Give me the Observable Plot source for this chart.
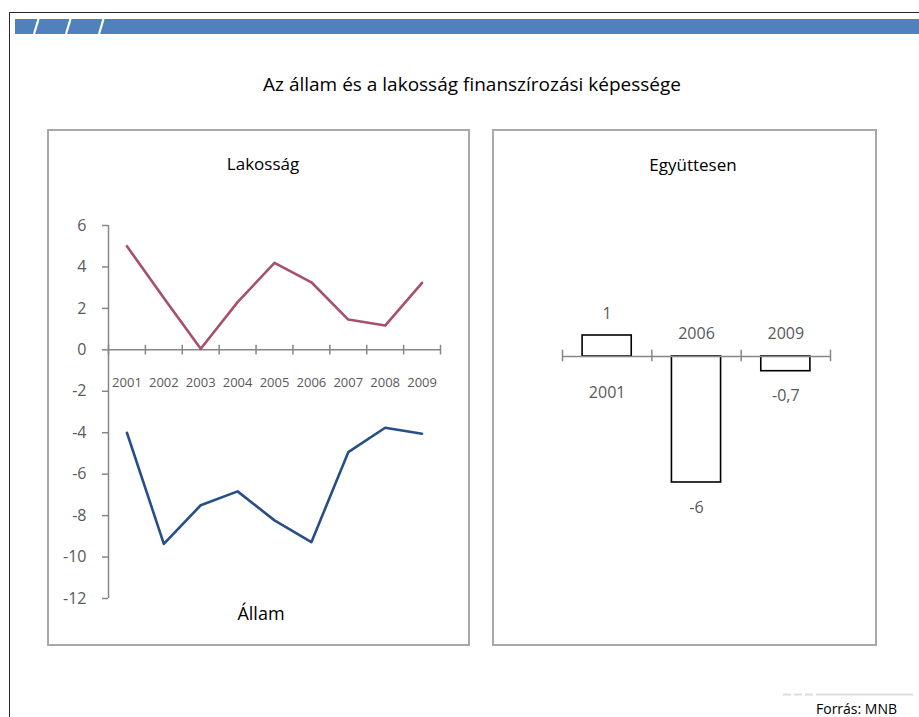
<!DOCTYPE html>
<html><head><meta charset="utf-8">
<script src="https://cdn.jsdelivr.net/npm/d3@7"></script>
<script src="https://cdn.jsdelivr.net/npm/@observablehq/plot@0.6"></script>
<style>
body{margin:0;background:#fff;font-family:"Open Sans",sans-serif}
#page{position:relative;width:919px;height:717px;overflow:hidden;background:#fff}
.abs{position:absolute}
.panel{position:absolute;border:2px solid #A8A8A8;box-sizing:border-box}
.ptitle{position:absolute;transform:translate(-50%,-50%);font-size:17px;color:#000;white-space:nowrap;line-height:1.2}
</style></head><body><div id="page">
<div class="abs" style="left:9px;top:12px;width:920px;height:720px;border-left:1.5px solid #2a2a2a;border-top:1.5px solid #2a2a2a"></div>
<svg class="abs" style="left:15px;top:19px" width="904" height="15">
<rect x="0" y="0" width="904" height="15" fill="#4F81BD"/>
<line x1="19" y1="15" x2="23.5" y2="0" stroke="#fff" stroke-width="2.2"/>
<line x1="51" y1="15" x2="55.5" y2="0" stroke="#fff" stroke-width="2.2"/>
<line x1="84" y1="15" x2="88.5" y2="0" stroke="#fff" stroke-width="2.2"/>
</svg>
<div class="ptitle" style="left:472px;top:84px;font-size:19px">Az állam és a lakosság finanszírozási képessége</div>
<div class="panel" style="left:47px;top:129px;width:423px;height:517px"></div>
<div class="panel" style="left:492px;top:129px;width:385px;height:517px"></div>
<div id="left" class="abs" style="left:48px;top:130px"></div>
<div id="right" class="abs" style="left:494px;top:130px"></div>
<div class="ptitle" style="left:263px;top:164px">Lakosság</div>
<div class="ptitle" style="left:261px;top:614px;font-size:18px">Állam</div>
<div class="ptitle" style="left:693px;top:165px">Együttesen</div>
<svg class="abs" style="left:783px;top:693px" width="130" height="3">
<line x1="0" y1="1.5" x2="130" y2="1.5" stroke="#DDDDDD" stroke-width="2" stroke-dasharray="8,3,8,3,8,3,200"/>
</svg>
<div class="abs" style="left:816px;top:702px;font-size:14px;line-height:14px;color:#000;white-space:nowrap">Forrás: MNB</div>
</div>
<script>
const years = ["2001","2002","2003","2004","2005","2006","2007","2008","2009"];
const lakossag = [5.0, 2.5, 0.05, 2.3, 4.2, 3.26, 1.46, 1.17, 3.23];
const allam = [-4.0, -9.36, -7.5, -6.83, -8.23, -9.28, -4.94, -3.76, -4.05];
const yTicks = [-12, -10, -8, -6, -4, -2, 0, 2, 4, 6];
const sumYears = ["2001", "2006", "2009"];
const sumValues = [1, -6, -0.7];

const lakData = years.map((y, i) => ({year: y, value: lakossag[i]}));
const allData = years.map((y, i) => ({year: y, value: allam[i]}));
const sumData = sumYears.map((y, i) => ({year: y, value: sumValues[i]}));
const fmt = v => String(v).replace(".", ",");

const axisGrey = "#868686";
const textGrey = "#595959";
const font = {fontFamily: "'Open Sans', sans-serif", background: "transparent", overflow: "visible"};

const LW = 420, LH = 514, LML = 60, LMR = 28;
const stepL = (LW - LML - LMR) / years.length;
const left = Plot.plot({
  width: LW, height: LH,
  marginLeft: LML, marginRight: LMR, marginTop: 95, marginBottom: 46,
  x: {type: "band", domain: years, padding: 0, round: false, axis: null},
  y: {domain: [-12, 6], axis: null},
  style: font,
  marks: [
    Plot.axisY({ticks: yTicks, tickSize: 6, tickPadding: 16, tickFormat: d => String(d), label: null,
      stroke: axisGrey, strokeWidth: 1.5, fill: textGrey, fontSize: 16}),
    Plot.ruleX([years[0]], {x: d => d, dx: -stepL / 2, stroke: axisGrey, strokeWidth: 1.5}),
    Plot.ruleY([0], {stroke: axisGrey, strokeWidth: 1.5}),
    Plot.ruleX(years, {x: d => d, y1: -0.25, y2: 0.22, dx: -stepL / 2, stroke: axisGrey, strokeWidth: 1.5}),
    Plot.ruleX([years[years.length - 1]], {x: d => d, y1: -0.25, y2: 0.22, dx: stepL / 2, stroke: axisGrey, strokeWidth: 1.5}),
    Plot.text(years, {x: d => d, y: 0, text: d => d, dy: 33, fontSize: 13, fill: textGrey}),
    Plot.line(lakData, {x: "year", y: "value", stroke: "#A64F6F", strokeWidth: 2.6}),
    Plot.line(allData, {x: "year", y: "value", stroke: "#274F86", strokeWidth: 2.6})
  ]
});
document.getElementById("left").appendChild(left);

const RW = 380, RH = 514, RML = 68, RMR = 44;
const stepR = (RW - RML - RMR) / sumYears.length;
const pos = sumData.filter(d => d.value > 0);
const neg = sumData.filter(d => d.value < 0);
const right = Plot.plot({
  width: RW, height: RH,
  marginLeft: RML, marginRight: RMR, marginTop: 100, marginBottom: 36,
  x: {type: "band", domain: sumYears, paddingInner: 0.45, paddingOuter: 0.225, round: false, axis: null},
  y: {domain: [-12, 6], axis: null},
  style: font,
  marks: [
    Plot.barY(sumData, {x: "year", y: "value", fill: "white", stroke: "#000", strokeWidth: 1.6}),
    Plot.ruleY([0], {stroke: axisGrey, strokeWidth: 1.5}),
    Plot.ruleX(sumYears, {x: d => d, y1: -0.25, y2: 0.3, dx: -stepR / 2, stroke: axisGrey, strokeWidth: 1.5}),
    Plot.ruleX([sumYears[sumYears.length - 1]], {x: d => d, y1: -0.25, y2: 0.3, dx: stepR / 2, stroke: axisGrey, strokeWidth: 1.5}),
    Plot.text(pos, {x: "year", y: "value", text: d => fmt(d.value), dy: -22, fontSize: 16, fill: textGrey}),
    Plot.text(neg, {x: "year", y: "value", text: d => fmt(d.value), dy: 25, fontSize: 16, fill: textGrey}),
    Plot.text(pos, {x: "year", y: 0, text: "year", dy: 36, fontSize: 16, fill: textGrey}),
    Plot.text(neg, {x: "year", y: 0, text: "year", dy: -23, fontSize: 16, fill: textGrey})
  ]
});
document.getElementById("right").appendChild(right);
</script>
</body></html>
